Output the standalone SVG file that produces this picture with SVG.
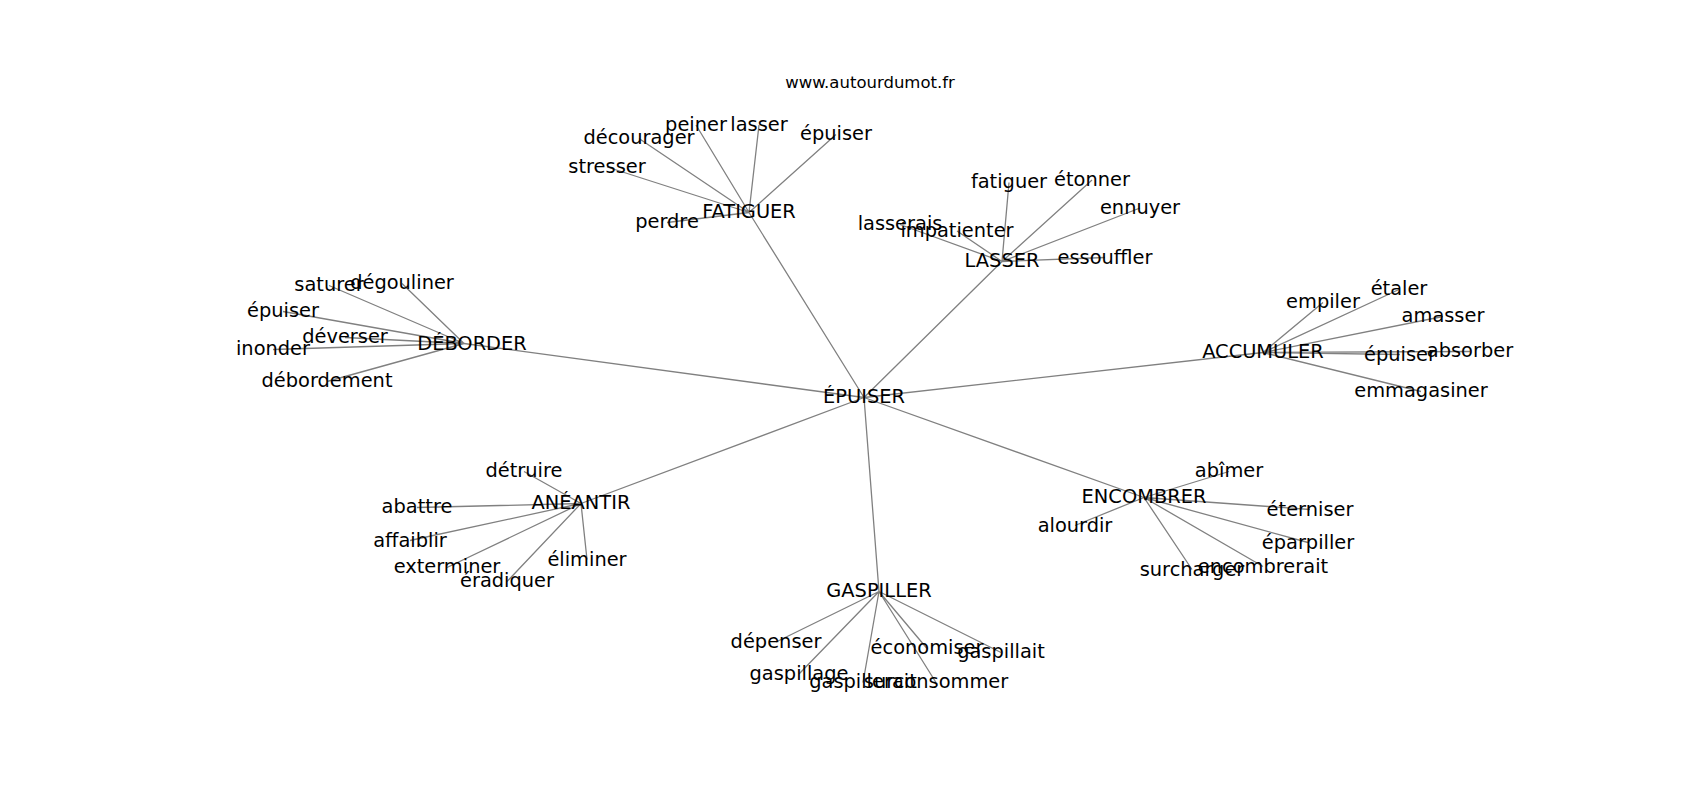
<svg xmlns="http://www.w3.org/2000/svg" width="1700" height="800" viewBox="0 0 1700 800">
<style>
.e{stroke:#808080;stroke-width:1.3;fill:none}
text{font-family:"DejaVu Sans","Liberation Sans",sans-serif;font-size:19.4px;fill:#000;text-anchor:middle}
.t{font-size:16.5px}
</style>
<rect width="1700" height="800" fill="#fff"/>
<text class="t" x="870" y="88">www.autourdumot.fr</text>
<g id="connectors">
<path class="e" d="M864 397.5L749 212.5M864 397.5L1002 261.5M864 397.5L464 343.5M864 397.5L1263 352.5M864 397.5L581 503.5M864 397.5L1144 497.5M864 397.5L879 591.5"/>
<path class="e" d="M749 212.5L696 125M749 212.5L759 125M749 212.5L836 134.5M749 212.5L639 138.5M749 212.5L607 167M749 212.5L667 222.5"/>
<path class="e" d="M1002 261.5L1009 182.5M1002 261.5L1092 180M1002 261.5L900 224.5M1002 261.5L957 231M1002 261.5L1140 208M1002 261.5L1105 257.5"/>
<path class="e" d="M464 343.5L329 285.5M464 343.5L402 283.5M464 343.5L283 311.5M464 343.5L345 337.5M464 343.5L273 349.5M464 343.5L327 381.5"/>
<path class="e" d="M1263 352.5L1323 302.5M1263 352.5L1399 289.5M1263 352.5L1443 316.5M1263 352.5L1400 354.5M1263 352.5L1470 351.5M1263 352.5L1421 391.5"/>
<path class="e" d="M581 503.5L524 471.5M581 503.5L417 507.5M581 503.5L410 540.5M581 503.5L447 567.5M581 503.5L507 581.5M581 503.5L587 559.5"/>
<path class="e" d="M1144 497.5L1229 471.5M1144 497.5L1075 525.5M1144 497.5L1310 509.5M1144 497.5L1308 542.5M1144 497.5L1192 569.5M1144 497.5L1263 566.5"/>
<path class="e" d="M879 591.5L776 642M879 591.5L799 674M879 591.5L863 682.5M879 591.5L936 682.5M879 591.5L927 648.5M879 591.5L1001 652.5"/>
</g>
<g id="n-epuiser-hub"><text x="864" y="403">ÉPUISER</text></g>
<g id="n-fatiguer"><text x="749" y="218">FATIGUER</text></g>
<g id="n-f-peiner"><text x="696" y="130.5">peiner</text></g>
<g id="n-f-lasser"><text x="759" y="130.5">lasser</text></g>
<g id="n-f-epuiser"><text x="836" y="140">épuiser</text></g>
<g id="n-f-decourager"><text x="639" y="144">décourager</text></g>
<g id="n-f-stresser"><text x="607" y="172.5">stresser</text></g>
<g id="n-f-perdre"><text x="667" y="228">perdre</text></g>
<g id="n-lasser"><text x="1002" y="267">LASSER</text></g>
<g id="n-l-fatiguer"><text x="1009" y="188">fatiguer</text></g>
<g id="n-l-etonner"><text x="1092" y="185.5">étonner</text></g>
<g id="n-l-lasserais"><text x="900" y="230">lasserais</text></g>
<g id="n-l-impatienter"><text x="957" y="236.5">impatienter</text></g>
<g id="n-l-ennuyer"><text x="1140" y="213.5">ennuyer</text></g>
<g id="n-l-essouffler"><text x="1105" y="263.5">essouffler</text></g>
<g id="n-deborder"><text x="472" y="350">DÉBORDER</text></g>
<g id="n-d-saturer"><text x="329" y="291">saturer</text></g>
<g id="n-d-degouliner"><text x="402" y="289">dégouliner</text></g>
<g id="n-d-epuiser"><text x="283" y="317">épuiser</text></g>
<g id="n-d-deverser"><text x="345" y="343">déverser</text></g>
<g id="n-d-inonder"><text x="273" y="355">inonder</text></g>
<g id="n-d-debordement"><text x="327" y="387">débordement</text></g>
<g id="n-accumuler"><text x="1263" y="358">ACCUMULER</text></g>
<g id="n-a-empiler"><text x="1323" y="308">empiler</text></g>
<g id="n-a-etaler"><text x="1399" y="295">étaler</text></g>
<g id="n-a-amasser"><text x="1443" y="322">amasser</text></g>
<g id="n-a-epuiser"><text x="1400" y="360.5">épuiser</text></g>
<g id="n-a-absorber"><text x="1470" y="357">absorber</text></g>
<g id="n-a-emmagasiner"><text x="1421" y="397">emmagasiner</text></g>
<g id="n-aneantir"><text x="581" y="509">ANÉANTIR</text></g>
<g id="n-n-detruire"><text x="524" y="477">détruire</text></g>
<g id="n-n-abattre"><text x="417" y="513">abattre</text></g>
<g id="n-n-affaiblir"><text x="410" y="546.5">affaiblir</text></g>
<g id="n-n-exterminer"><text x="447" y="573">exterminer</text></g>
<g id="n-n-eradiquer"><text x="507" y="587">éradiquer</text></g>
<g id="n-n-eliminer"><text x="587" y="565.5">éliminer</text></g>
<g id="n-encombrer"><text x="1144" y="503">ENCOMBRER</text></g>
<g id="n-e-abimer"><text x="1229" y="477">abîmer</text></g>
<g id="n-e-alourdir"><text x="1075" y="531.5">alourdir</text></g>
<g id="n-e-eterniser"><text x="1310" y="515.5">éterniser</text></g>
<g id="n-e-eparpiller"><text x="1308" y="548.5">éparpiller</text></g>
<g id="n-e-surcharger"><text x="1192" y="575.5">surcharger</text></g>
<g id="n-e-encombrerait"><text x="1263" y="572.5">encombrerait</text></g>
<g id="n-gaspiller"><text x="879" y="597">GASPILLER</text></g>
<g id="n-g-depenser"><text x="776" y="647.5">dépenser</text></g>
<g id="n-g-gaspillage"><text x="799" y="679.5">gaspillage</text></g>
<g id="n-g-gaspillerait"><text x="863" y="688">gaspillerait</text></g>
<g id="n-g-surconsommer"><text x="936" y="688">surconsommer</text></g>
<g id="n-g-economiser"><text x="927" y="654">économiser</text></g>
<g id="n-g-gaspillait"><text x="1001" y="658">gaspillait</text></g>
</svg>
